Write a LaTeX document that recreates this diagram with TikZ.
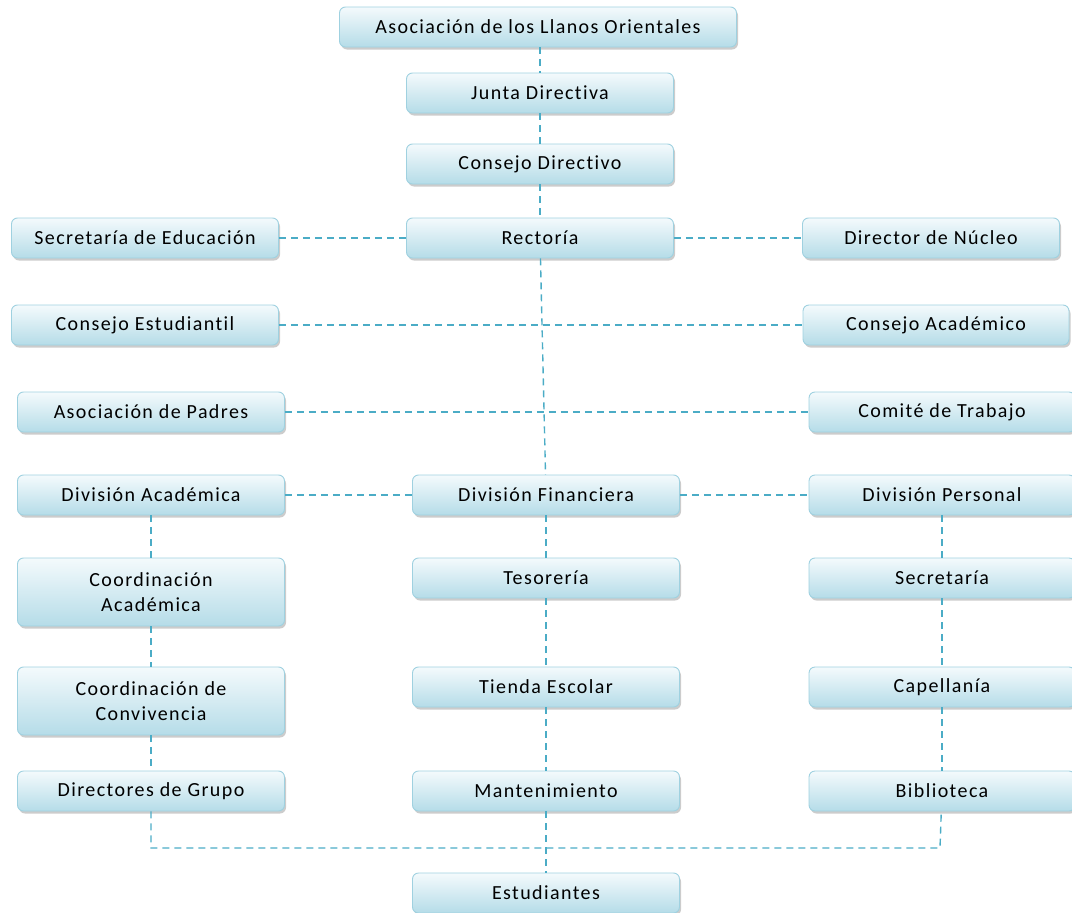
\documentclass[tikz,border=0pt]{standalone}
\usepackage{fontspec}
\setmainfont[LetterSpace=7, Ligatures=NoCommon]{Carlito}
\usepackage{tikz}
\usetikzlibrary{shadows}
\definecolor{linkblue}{HTML}{4BACC6}
\definecolor{boxtop}{HTML}{F4FAFC}
\definecolor{boxbot}{HTML}{B5DCE8}
\definecolor{boxline}{HTML}{9FD1E0}
\tikzstyle{unit} = [draw=boxline, line width=0.9pt, rounded corners=6pt, top color=boxtop, bottom color=boxbot,
  drop shadow={shadow xshift=1.5pt, shadow yshift=-2.5pt, opacity=0.4}, minimum width=267pt, minimum height=40pt,
  inner sep=0pt, align=center, font=\fontsize{20}{25}\selectfont, text=black]
\tikzstyle{tall} = [unit, minimum height=68pt]
\tikzstyle{link} = [draw=linkblue, line width=1.4pt, dash pattern=on 7pt off 5pt]

\begin{document}
\begin{tikzpicture}[x=1pt, y=-1pt]
    \useasboundingbox (0,0) rectangle (1072,913);
    \coordinate (busL) at (151,848);
    \coordinate (busR) at (940,848);
    \node[unit, minimum width=397pt] (aso) at (538,27) {Asociación de los Llanos Orientales};
    \node[unit] (junta) at (540,93) {Junta Directiva};
    \node[unit] (cdir) at (540,164) {Consejo Directivo};
    \node[unit] (rect) at (540,238) {Rectoría};
    \node[unit] (sedu) at (145,238) {Secretaría de Educación};
    \node[unit, minimum width=257pt] (nucleo) at (931,238) {Director de Núcleo};
    \node[unit] (cest) at (145,325) {Consejo Estudiantil};
    \node[unit, minimum width=266pt] (cacad) at (936,325) {Consejo Académico};
    \node[unit] (padres) at (151,412) {Asociación de Padres};
    \node[unit, minimum width=266pt] (comite) at (942,412) {Comité de Trabajo};
    \node[unit] (divacad) at (151,495) {División Académica};
    \node[unit] (divfin) at (546,495) {División Financiera};
    \node[unit, minimum width=266pt] (divper) at (942,495) {División Personal};
    \node[tall] (coordacad) at (151,592) {Coordinación\\Académica};
    \node[unit] (tesor) at (546,578) {Tesorería};
    \node[unit, minimum width=266pt] (secre) at (942,578) {Secretaría};
    \node[tall] (coordconv) at (151,701) {Coordinación de\\Convivencia};
    \node[unit] (tienda) at (546,687) {Tienda Escolar};
    \node[unit, minimum width=266pt] (capell) at (942,687) {Capellanía};
    \node[unit] (dirgrupo) at (151,791) {Directores de Grupo};
    \node[unit] (mant) at (546,791) {Mantenimiento};
    \node[unit, minimum width=266pt] (biblio) at (942,791) {Biblioteca};
    \node[unit] (estud) at (546,893) {Estudiantes};
    % vertical chain
    \draw[link] (aso.south -| junta) -- (junta);
    \draw[link] (junta) -- (cdir);
    \draw[link] (cdir) -- (rect);
    \draw[link] (rect) -- (divfin);
    % horizontal ties
    \draw[link] (sedu) -- (rect);
    \draw[link] (rect) -- (nucleo);
    \draw[link] (cest) -- (cacad);
    \draw[link] (padres) -- (comite);
    \draw[link] (divacad) -- (divfin);
    \draw[link] (divfin) -- (divper);
    % columns
    \draw[link] (divacad) -- (coordacad);
    \draw[link] (coordacad) -- (coordconv);
    \draw[link] (coordconv) -- (dirgrupo);
    \draw[link] (divfin) -- (tesor);
    \draw[link] (tesor) -- (tienda);
    \draw[link] (tienda) -- (mant);
    \draw[link] (mant) -- (estud);
    \draw[link] (divper) -- (secre);
    \draw[link] (secre) -- (capell);
    \draw[link] (capell) -- (biblio);
    \draw[link] (dirgrupo) -- (busL) -- (busR) -- (biblio);
\end{tikzpicture}
\end{document}
